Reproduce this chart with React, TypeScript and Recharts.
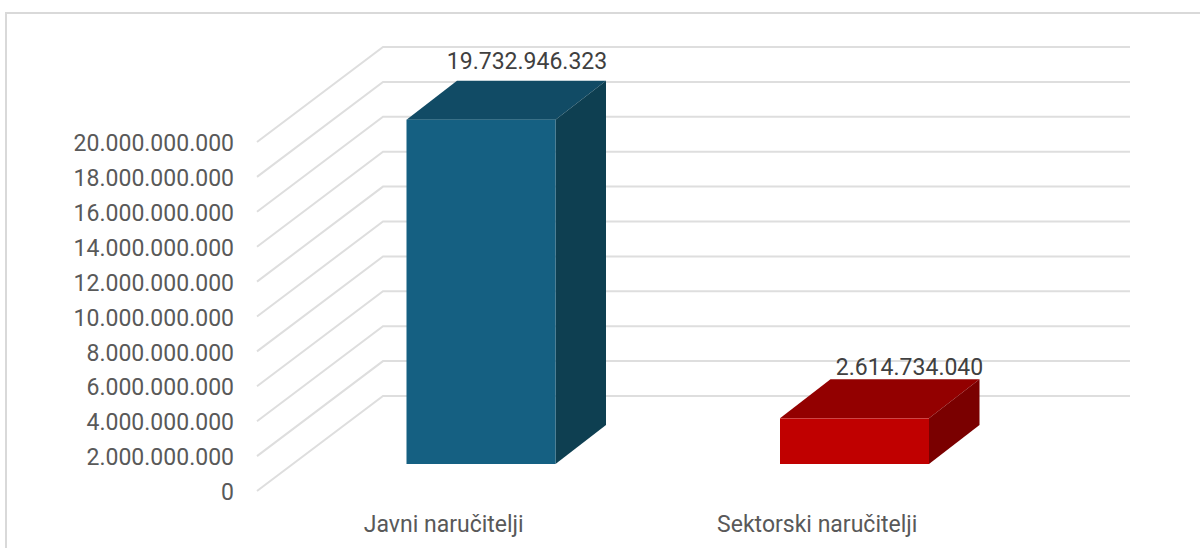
import { BarChart, Bar, XAxis, YAxis, CartesianGrid, LabelList } from 'recharts'

const categories = ['Javni naručitelji', 'Sektorski naručitelji']
const values = [19732946323, 2614734040]
const yTicks = [0, 2000000000, 4000000000, 6000000000, 8000000000, 10000000000, 12000000000, 14000000000, 16000000000, 18000000000, 20000000000]

const frontColors = ['#156082', '#C00000']
const topColors = ['#114B65', '#930000']
const sideColors = ['#0E3F51', '#7A0000']

const data = categories.map((name, i) => ({ name, value: values[i] }))

const FONT = 'Roboto, sans-serif'
const fmt = (v: number) => v.toLocaleString('de-DE')

// floor depth of the fake 3D box
const WALL_DX = 126
const WALL_DY = 95
const BAR_SHIFT_X = 37.5
const BAR_SHIFT_Y = 27
const BOX_DX = 50.5
const BOX_DY = 39
const LABEL_OFFSETS = [
  { dx: 46, dy: -20 },
  { dx: 55, dy: -12 },
]

const WallLine = ({ x1, y1, x2 }: any) => (
  <polyline
    points={`${x1},${y1} ${x1 + WALL_DX},${y1 - WALL_DY} ${x2 + WALL_DX},${y1 - WALL_DY}`}
    fill="none"
    stroke="#DEDEDE"
    strokeWidth={2}
  />
)

const Box = ({ x, y, width, height, index }: any) => {
  const l = x + BAR_SHIFT_X
  const r = l + width
  const t = y - BAR_SHIFT_Y
  const b = t + height
  return (
    <g>
      <polygon points={`${l},${t} ${l + BOX_DX},${t - BOX_DY} ${r + BOX_DX},${t - BOX_DY} ${r},${t}`} fill={topColors[index]} />
      <polygon points={`${r},${t} ${r + BOX_DX},${t - BOX_DY} ${r + BOX_DX},${b - BOX_DY} ${r},${b}`} fill={sideColors[index]} />
      <rect x={l} y={t} width={width} height={height} fill={frontColors[index]} />
    </g>
  )
}

const BoxLabel = ({ x, y, width, value, index }: any) => {
  const off = LABEL_OFFSETS[index]
  return (
    <text
      x={x + BAR_SHIFT_X + width / 2 + off.dx}
      y={y - BAR_SHIFT_Y - BOX_DY + off.dy}
      dy="0.35em"
      textAnchor="middle"
      fontFamily={FONT}
      fontSize={23}
      fill="#404040"
    >
      {fmt(value)}
    </text>
  )
}

export default function App() {
  return (
    <div style={{ position: 'absolute', left: 0, top: 0, width: 1200, height: 548, background: '#fff', overflow: 'hidden' }}>
      <div style={{ position: 'absolute', left: 5, top: 12, right: 0, bottom: 0, borderLeft: '2px solid #D9D9D9', borderTop: '2px solid #D9D9D9' }} />
      <BarChart
        width={1200}
        height={548}
        data={data}
        margin={{ top: 142, right: 196, bottom: 0, left: 57 }}
        style={{ position: 'absolute', left: 0, top: 0 }}
      >
        <CartesianGrid vertical={false} horizontal={<WallLine />} horizontalValues={yTicks} />
        <YAxis
          type="number"
          width={200}
          domain={[0, 20000000000]}
          ticks={yTicks}
          interval={0}
          axisLine={false}
          tickLine={false}
          tickSize={0}
          tickMargin={23}
          tickFormatter={fmt}
          tick={{ fill: '#595959', fontSize: 23, fontFamily: FONT, dy: 1 }}
        />
        <XAxis
          dataKey="name"
          height={57}
          axisLine={false}
          tickLine={false}
          tickMargin={19}
          tick={{ fill: '#595959', fontSize: 23, fontFamily: FONT }}
        />
        <Bar dataKey="value" barSize={149} shape={<Box />} isAnimationActive={false}>
          <LabelList dataKey="value" content={<BoxLabel />} />
        </Bar>
      </BarChart>
    </div>
  )
}
